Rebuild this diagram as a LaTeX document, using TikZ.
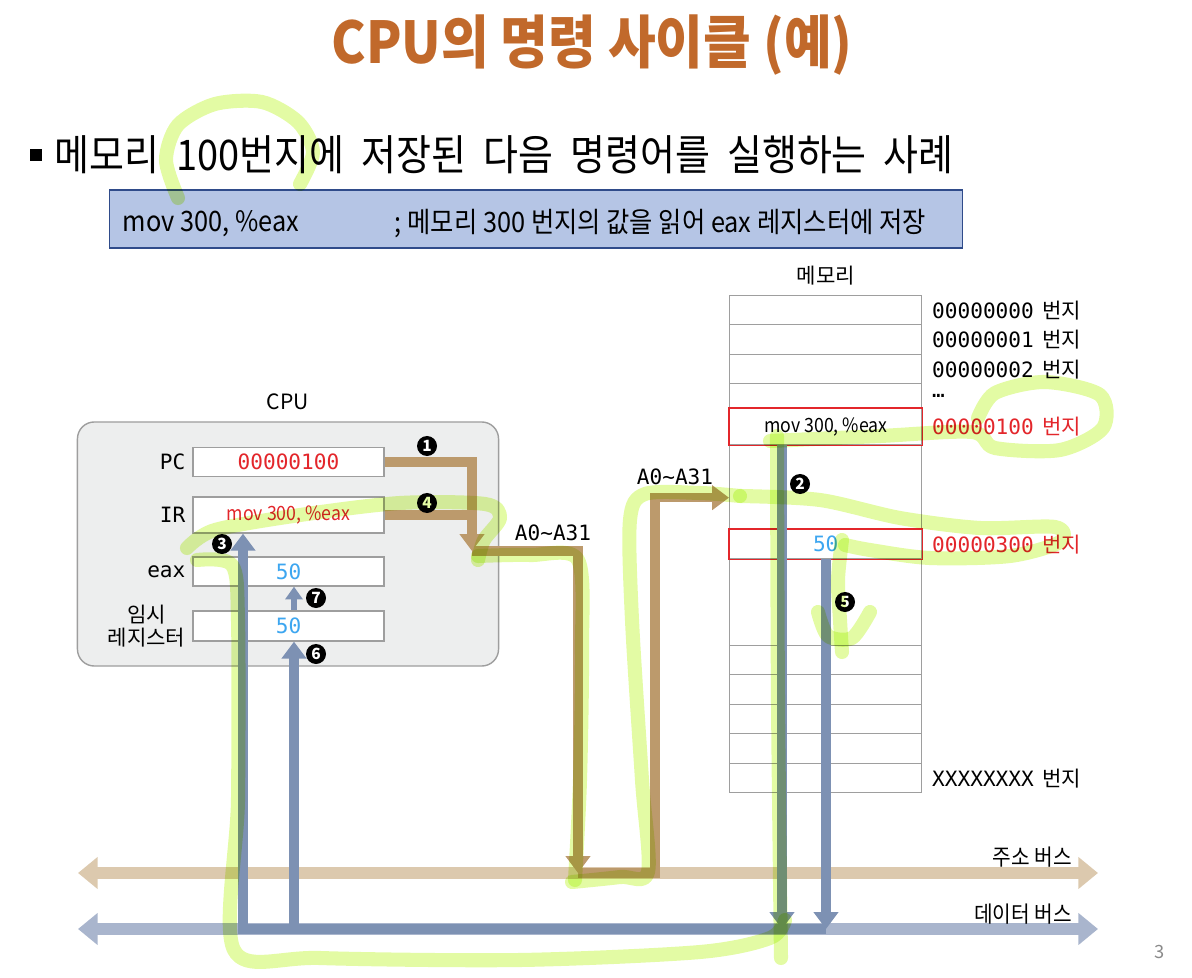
\documentclass[tikz,border=0pt]{standalone}
\usepackage{fontspec}
\usepackage{tikz}
\usetikzlibrary{arrows.meta,positioning,calc}
\setmainfont{Noto Sans CJK KR}
\setmonofont{DejaVu Sans Mono}
\newfontfamily\krnarrow[FakeStretch=0.9]{Noto Sans CJK KR}
\definecolor{CycTitle}{HTML}{C1692B}
\definecolor{CycPanel}{HTML}{EDEEEE}
\definecolor{CycFrame}{HTML}{9E9E9E}
\definecolor{CycBoxFill}{HTML}{B5C5E5}
\definecolor{CycBoxLine}{HTML}{2F4B8A}
\definecolor{CycRed}{HTML}{E3262B}
\definecolor{CycCyan}{HTML}{3DA6F0}
\definecolor{CycBrown}{HTML}{BC9A6C}
\definecolor{CycAddrBus}{HTML}{DCC9AE}
\definecolor{CycDataBus}{HTML}{A9B5CD}
\definecolor{CycBlue}{HTML}{7D91B3}
\definecolor{CycMark}{HTML}{E3FBA4}
\definecolor{CycGray}{HTML}{8A8A8A}

\begin{document}
\begin{tikzpicture}[x=0.025cm,y=-0.025cm]
  \tikzset{
    reg/.style={draw=CycFrame,fill=white,line width=0.9pt,minimum width=4.775cm,inner sep=0pt},
    regname/.style={font=\fontsize{15}{18}\selectfont,align=center},
    cell/.style={draw=CycFrame,line width=1pt,minimum width=4.8cm,inner sep=0pt,anchor=north west},
    addrlbl/.style={font=\fontsize{15}{18}\selectfont},
    num/.style={circle,fill=black,text=white,inner sep=0pt,minimum size=0.5cm,font=\bfseries\fontsize{11}{11}\selectfont},
    bus/.style={line width=9pt,{Triangle[length=14pt,width=22pt]}-{Triangle[length=14pt,width=22pt]}},
    addr/.style={draw=CycBrown,line width=6.5pt},
    data/.style={draw=CycBlue,line width=7pt},
    tip/.style={-{Triangle[length=12pt,width=17pt]}},
    hilite/.style={draw=CycMark,line width=10pt,line cap=round,line join=round}
  }
  \useasboundingbox (0,0) rectangle (1192,978);

  % title and lead line
  \node[font=\krnarrow\bfseries\fontsize{41}{45}\selectfont,text=CycTitle] (title) at (592,45) {CPU의 명령 사이클 (예)};
  \node[fill=black,minimum size=0.3cm,inner sep=0pt] (bul) at (36,155) {};
  \node[anchor=west,font=\krnarrow\fontsize{30}{33}\selectfont] (lead) at (50,155) {메모리 \ 100번지에 \ 저장된 \ 다음 \ 명령어를 \ 실행하는 \ 사례};
  \node[draw=CycBoxLine,fill=CycBoxFill,line width=0.8pt,minimum width=21.3cm,minimum height=1.45cm] (instr) at (536,219) {};
  \node[anchor=west,font=\krnarrow\fontsize{20}{23}\selectfont] (op) at (118,224) {mov 300, \%eax};
  \node[anchor=west,font=\krnarrow\fontsize{20}{23}\selectfont] (cmt) at (390,224) {; 메모리 300 번지의 값을 읽어 eax 레지스터에 저장};

  % buses
  \coordinate (abus-l) at (78,873);
  \coordinate (abus-r) at (1098,873);
  \coordinate (dbus-l) at (78,929);
  \coordinate (dbus-r) at (1098,929);
  \draw[bus,draw=CycAddrBus] (abus-l) -- (abus-r);
  \draw[bus,draw=CycDataBus] (dbus-l) -- (dbus-r);
  \node[anchor=east,font=\krnarrow\fontsize{16}{18}\selectfont] (abus-lbl) at (1077,857) {주소 버스};
  \node[anchor=east,font=\krnarrow\fontsize{16}{18}\selectfont] (dbus-lbl) at (1077,914) {데이터 버스};

  % CPU
  \node[draw=CycFrame,fill=CycPanel,line width=1pt,rounded corners=12pt,minimum width=10.525cm,minimum height=6.1cm] (cpu) at (288,544) {};
  \node[above=0.16cm of cpu,font=\fontsize{15}{18}\selectfont] (cpu-lbl) {CPU};
  \node[reg,minimum height=0.725cm,font=\ttfamily\fontsize{15}{18}\selectfont,text=CycRed] (pc) at (288.5,462) {00000100};
  \node[reg,minimum height=0.9cm,font=\krnarrow\fontsize{14}{16}\selectfont,text=CycRed] (ir) at (288.5,515) {mov 300, \%eax};
  \node[reg,minimum height=0.725cm,font=\ttfamily\fontsize{15}{18}\selectfont,text=CycCyan] (eax) at (288.5,571.5) {50};
  \node[reg,minimum height=0.75cm,font=\ttfamily\fontsize{15}{18}\selectfont,text=CycCyan] (tmp) at (288.5,626) {50};
  \node[regname,left=0.05cm of pc] (pc-lbl) {\ttfamily PC};
  \node[regname,left=0.05cm of ir] (ir-lbl) {\ttfamily IR};
  \node[regname,left=0.05cm of eax] (eax-lbl) {\ttfamily eax};
  \node[regname,left=0.05cm of tmp] (tmp-lbl) {임시\\[-2pt]레지스터};

  % memory
  \foreach \t/\b/\n in {295/324/m0,324/354/m1,354/383/m2,383/408/m3,408/444/m4,444/529/m5,529/558/m6,
                        558/645/m7,645/674/m8,674/704/m9,704/733/m10,733/763/m11,763/792/m12}
    \node[cell,minimum height={(\b-\t)*0.025cm}] (\n) at (729,\t) {};
  \draw[CycRed,line width=1.1pt] (m4.north west) rectangle (m4.south east);
  \draw[CycRed,line width=1.1pt] (m6.north west) rectangle (m6.south east);
  \node[font=\krnarrow\fontsize{14}{16}\selectfont] (m4-txt) at (m4) {mov 300, \%eax};
  \node[font=\ttfamily\fontsize{15}{18}\selectfont,text=CycCyan] (m6-txt) at (m6) {50};
  \node[above=0.12cm of m0,font=\fontsize{15}{18}\selectfont] (mem-lbl) {메모리};
  \node[addrlbl,right=0.12cm of m0] (a0) {{\ttfamily 00000000} \,번지};
  \node[addrlbl,right=0.12cm of m1] (a1) {{\ttfamily 00000001} \,번지};
  \node[addrlbl,right=0.12cm of m2] (a2) {{\ttfamily 00000002} \,번지};
  \node[addrlbl,right=0.12cm of m3] (a3) {{\ttfamily …}};
  \node[addrlbl,right=0.12cm of m4,text=CycRed] (a100) {{\ttfamily 00000100} \,번지};
  \node[addrlbl,right=0.12cm of m6,text=CycRed] (a300) {{\ttfamily 00000300} \,번지};
  \node[addrlbl,right=0.12cm of m12] (ax) {{\ttfamily XXXXXXXX} \,번지};

  % address path
  \coordinate (j1) at (472,551);
  \coordinate (abus-a) at (578,873);
  \coordinate (abus-b) at (655,873);
  \coordinate (mem-in) at ($(m5.west)+(0,10.5)$);
  \draw[addr] (ir.east) -- (ir.east -| j1);
  \draw[addr,tip] (pc.east) -| (j1);
  \draw[addr,tip] (j1) -| (abus-a);
  \draw[addr,tip] (abus-a) -- (abus-b) |- (mem-in);
  \node[font=\ttfamily\fontsize{15}{18}\selectfont] (a-lbl1) at (553,533) {A0\textasciitilde A31};
  \node[font=\ttfamily\fontsize{15}{18}\selectfont] (a-lbl2) at (675,477) {A0\textasciitilde A31};

  % data path
  \coordinate (dbus-g) at (782,929);
  \coordinate (dbus-b) at (826,929);
  \coordinate (dbus-ir) at (243,929);
  \coordinate (dbus-tmp) at (294,929);
  \draw[data,tip] (dbus-b) -| (ir.south -| dbus-ir);
  \draw[data,tip] (dbus-tmp) -- (tmp.south -| dbus-tmp);
  \draw[data,line width=4.5pt,-{Triangle[length=9pt,width=12pt]}] (tmp.north -| dbus-tmp) -- (eax.south -| dbus-tmp);
  \draw[data,tip] (m4.south -| dbus-g) -- (dbus-g);
  \draw[data,tip] (m6.south -| dbus-b) -- (dbus-b);

  % step numbers
  \node[num] (n1) at (427,446) {1};
  \node[num] (n2) at (800,484) {2};
  \node[num] (n3) at (222,544) {3};
  \node[num] (n4) at (427,503) {4};
  \node[num] (n5) at (845,602) {5};
  \node[num] (n6) at (316,654) {6};
  \node[num] (n7) at (316,598) {7};

  \node[text=CycGray,font=\fontsize{13}{13}\selectfont] (pg) at (1160,952) {3};

  % highlighter strokes
  \begin{scope}[blend mode=multiply]
    \draw[hilite] plot[smooth] coordinates {(178,198) (166,160) (178,125) (215,104) (262,102) (298,122) (313,152) (300,184)};
    \draw[hilite] plot[smooth] coordinates {(770,441) (880,436) (972,432) (995,448) (1060,450) (1103,428) (1100,395) (1045,382) (995,393) (978,418)};
    \draw[hilite] plot[smooth] coordinates {(187,548) (215,530) (300,515) (400,503) (485,504) (500,518) (484,540) (478,560)};
    \draw[hilite] plot[smooth] coordinates {(478,556) (530,555) (578,560) (582,650) (580,780) (575,880)};
    \draw[hilite] plot[smooth] coordinates {(572,882) (620,877) (648,872) (642,780) (632,620) (630,520) (645,494) (700,493) (740,496)};
    \draw[hilite] plot[smooth] coordinates {(740,496) (820,500) (900,518) (980,528) (1055,527) (1060,542) (1010,556) (930,558) (870,550) (845,545)};
    \draw[hilite] plot[smooth] coordinates {(842,540) (838,580) (840,620) (842,652)};
    \draw[hilite] plot[smooth] coordinates {(818,612) (828,636) (852,638) (870,612)};
    \draw[hilite] plot[smooth] coordinates {(197,560) (232,565) (238,620) (238,800) (234,950) (320,958) (520,960) (700,952) (770,938) (785,920)};
    \draw[hilite] plot[smooth] coordinates {(777,436) (778,700) (781,958)};
  \end{scope}
\end{tikzpicture}
\end{document}
